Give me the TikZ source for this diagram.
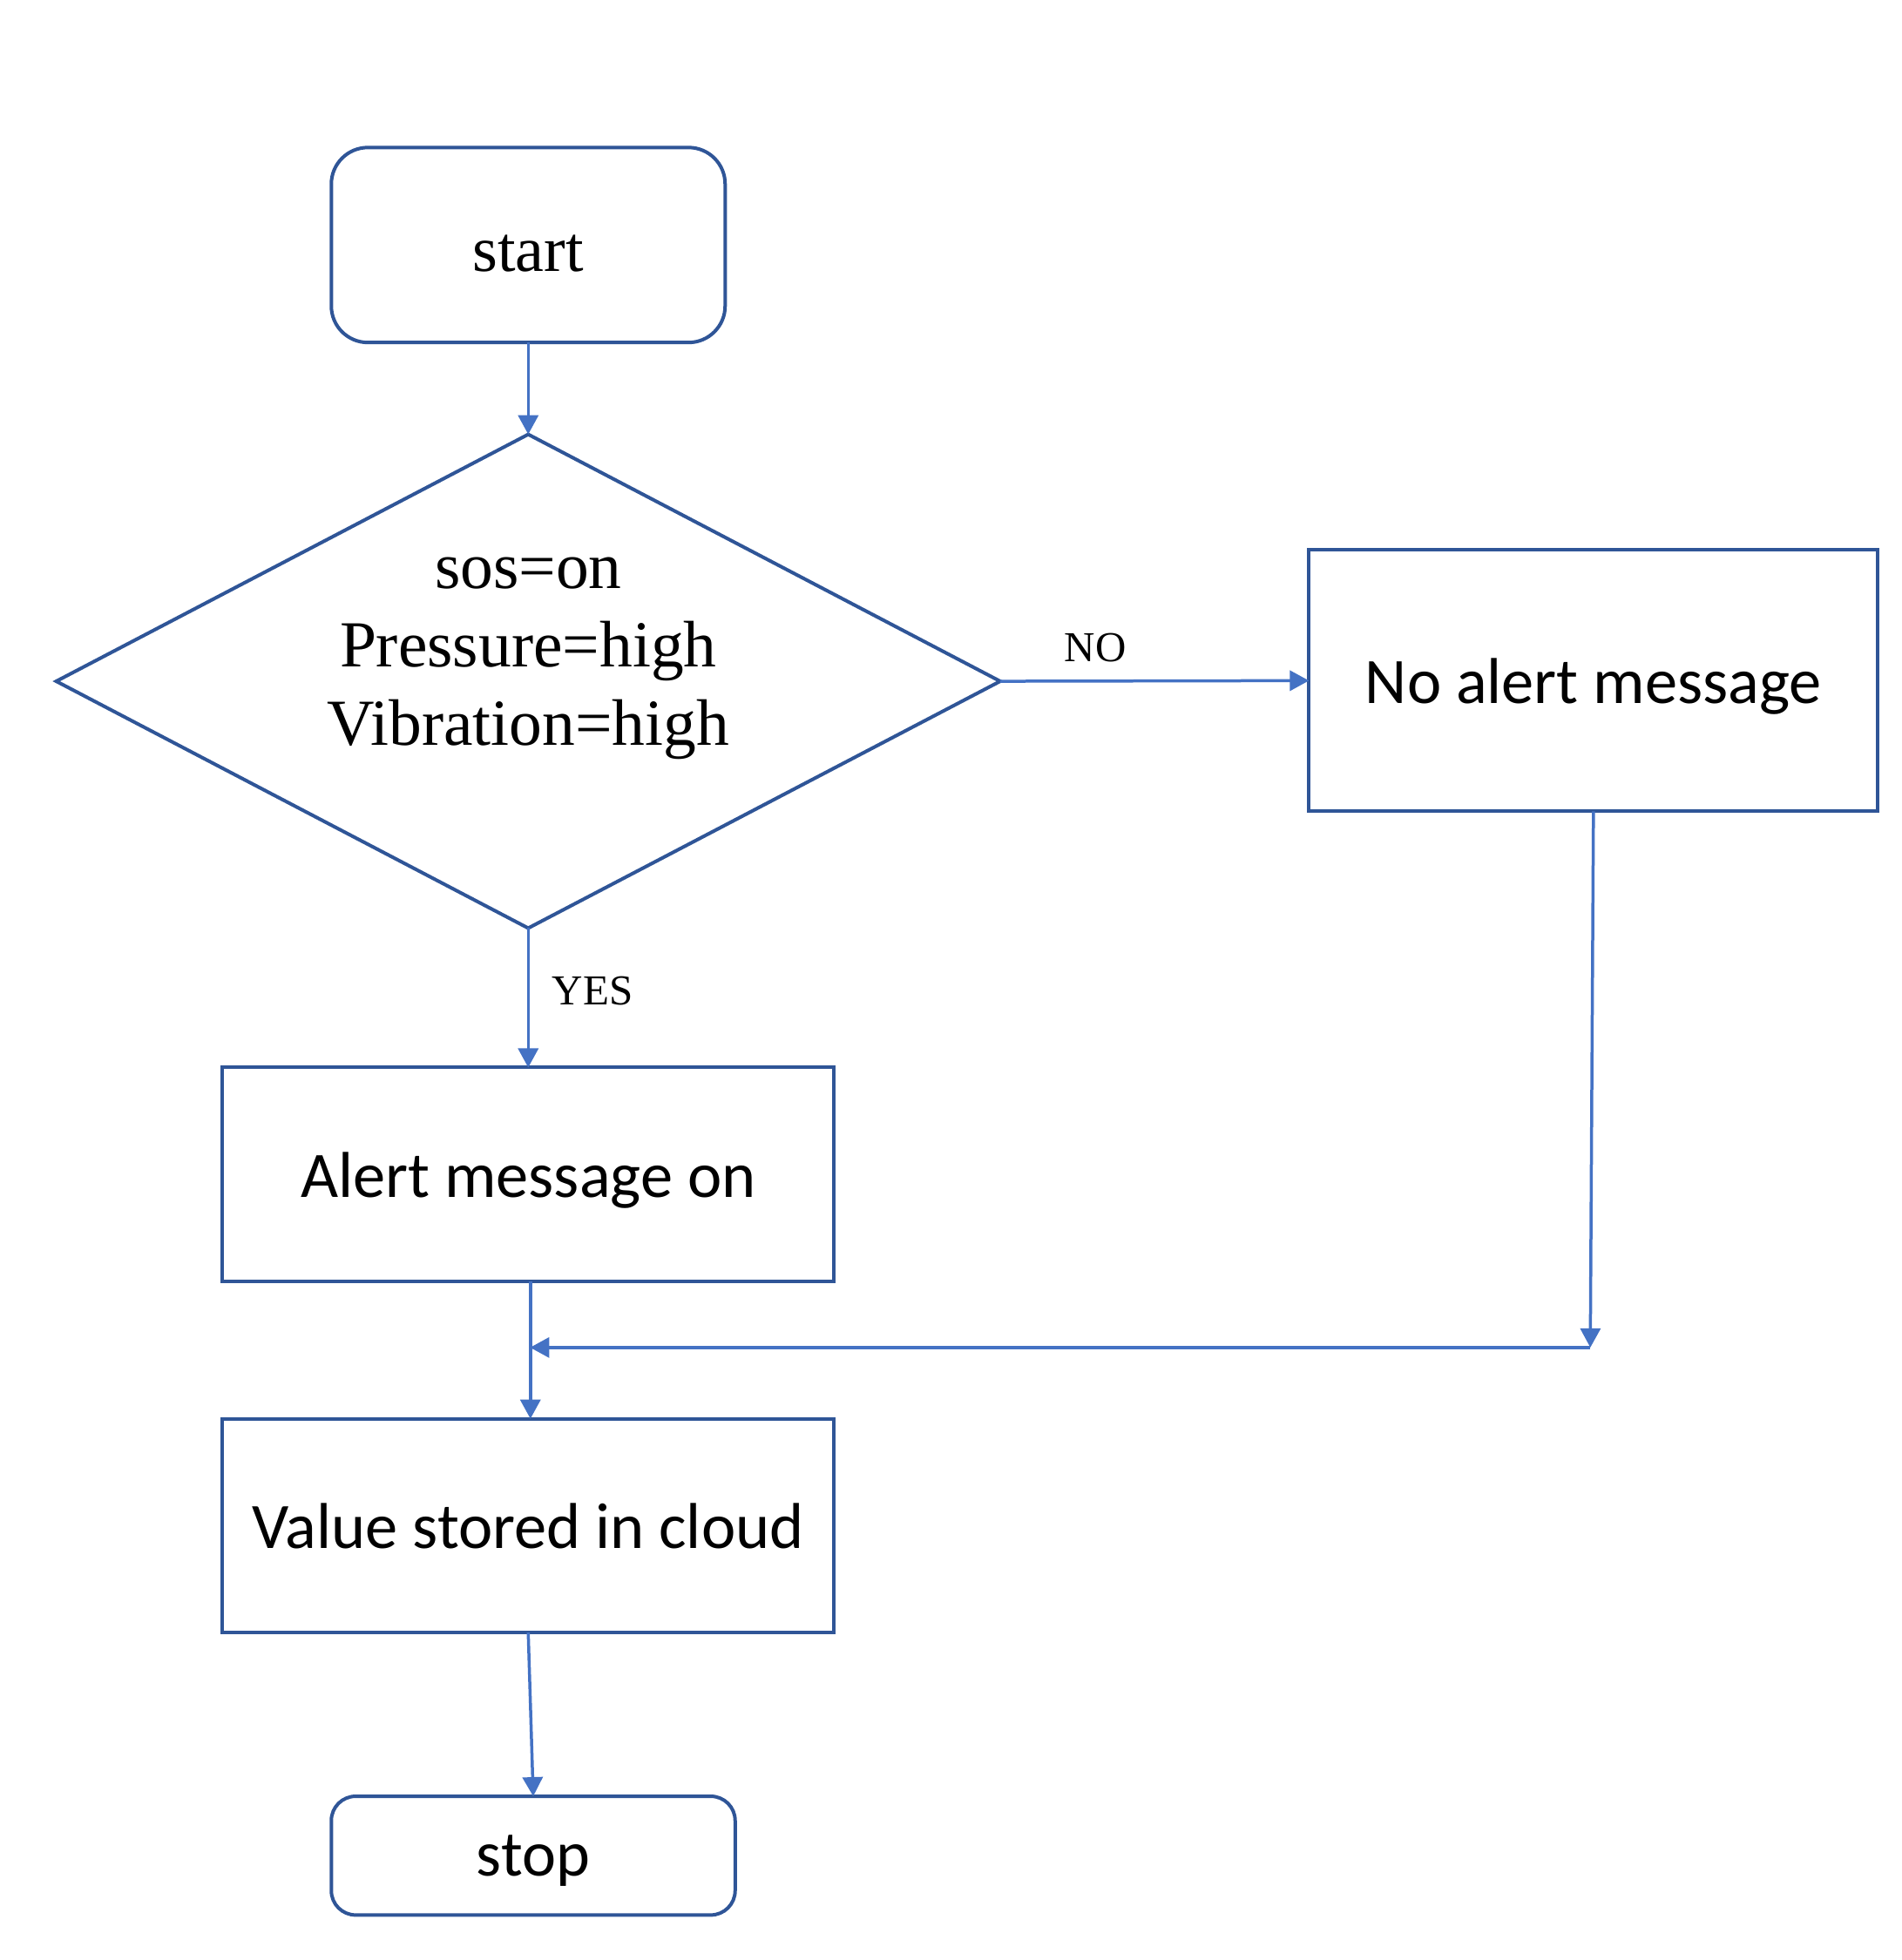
\documentclass[tikz,border=0pt]{standalone}
\usepackage{fontspec}
\setmainfont{Liberation Serif}
\newfontfamily\calib{Carlito}
\usetikzlibrary{shapes.geometric,arrows.meta}
\definecolor{boxblue}{HTML}{2F5597}
\definecolor{arrblue}{HTML}{4472C4}
\tikzset{
  base/.style={draw=boxblue,line width=4pt,inner sep=0pt,outer sep=0pt},
  termbox/.style={base,rectangle,rounded corners=42pt},
  procbox/.style={base,rectangle,minimum width={489*1.4353pt},minimum height={171*1.4353pt},
     font=\calib\fontsize{74.5}{89}\selectfont,text depth=0pt},
  decision/.style={base,diamond,minimum width={755*1.4353pt},minimum height={395*1.4353pt}},
  serifbig/.style={font=\fontsize{75.5}{90}\selectfont},
  labelsmall/.style={font=\fontsize{49}{58}\selectfont,inner sep=0pt},
  conn/.style={draw=arrblue,line width=3.5pt,-{Triangle[length=22pt,width=23pt]}},
}
\begin{document}
\begin{tikzpicture}[x=1.4353pt,y=-1.4353pt]
\useasboundingbox (0,0) rectangle (1521,1568);
\node[termbox,minimum width={315*1.4353pt},minimum height={156*1.4353pt},font=\fontsize{74}{89}\selectfont,text height=60pt,text depth=0pt] (start) at (422.5,196) {start};
\node[decision] (dec) at (422.5,545) {};
\node[serifbig,align=center,inner sep=0pt] (dectext) at (422.5,527) {sos=on\\Pressure=high\\Vibration=high};
\node[procbox,minimum width={455*1.4353pt},minimum height={209*1.4353pt}] (noalert) at (1274.5,544.5) {No alert message};
\node[procbox] (alert) at (422.5,939.5) {Alert message on};
\node[procbox] (value) at (422.5,1220.5) {Value stored in cloud};
\node[termbox,rounded corners=28pt,minimum width={323*1.4353pt},minimum height={95*1.4353pt},font=\calib\fontsize{74}{89}\selectfont,text depth=0pt] (stop) at (426.5,1484.5) {stop};
\node[labelsmall] (nolbl) at (876,518) {NO};
\node[labelsmall] (yeslbl) at (474,793) {YES};
\coordinate (m) at (1272,1078);
\coordinate (j) at (424,1078);
\draw[conn] (start.south) -- (dec.north);
\draw[conn] (dec.east) -- (noalert.west);
\draw[conn] (dec.south) -- (alert.north);
\draw[conn] ([xshift=2.5pt]alert.south) -- ([xshift=2.5pt]value.north);
\draw[conn] (noalert.south) -- (m);
\draw[conn] (m) -- (j);
\draw[conn] (value.south) -- (stop.north);
\end{tikzpicture}
\end{document}
